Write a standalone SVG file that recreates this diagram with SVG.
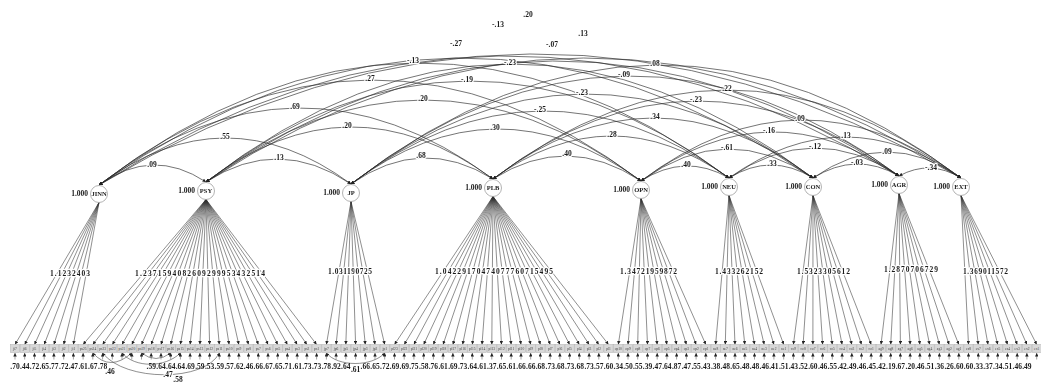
<svg xmlns="http://www.w3.org/2000/svg" xmlns:xlink="http://www.w3.org/1999/xlink" width="1041" height="383" viewBox="0 0 1041 383">
<style>
text{font-family:"Liberation Serif","Times New Roman",serif;font-weight:bold;fill:#1a1a1a}
.lat{fill:#fff;stroke:#a0a0a0;stroke-width:0.8}
.ln{font-size:6.5px;text-anchor:middle}
.one{font-size:7.5px;text-anchor:end}
.cov path{fill:none;stroke:#2a2a2a;stroke-width:0.65;marker-start:url(#ah);marker-end:url(#ah)}
.ld line{stroke:#333;stroke-width:0.55;marker-end:url(#ah2)}
.lab{font-size:7.5px;text-anchor:middle;paint-order:stroke;stroke:#fff;stroke-width:2.5px;stroke-linejoin:round}
.flt{font-size:7.5px;text-anchor:middle}
.ll{font-size:7.5px;text-anchor:middle;paint-order:stroke;stroke:#fff;stroke-width:2.5px;stroke-linejoin:round}
.box{fill:#d8d8d8;stroke:#b0b0b0;stroke-width:0.5}
.bt{font-size:3.6px;text-anchor:middle;fill:#444;font-weight:normal}
.res{font-size:7.5px;text-anchor:middle}
.err{stroke:#444;stroke-width:0.5;marker-end:url(#ah2)}
.ec path{fill:none;stroke:#333;stroke-width:0.55;marker-start:url(#ah3);marker-end:url(#ah3)}
</style>
<defs>
<marker id="ah" viewBox="0 0 6 6" refX="6" refY="3" markerWidth="3.5" markerHeight="3.5" markerUnits="userSpaceOnUse" orient="auto-start-reverse"><path d="M0,0L6,3L0,6z" fill="#222"/></marker>
<marker id="ah2" viewBox="0 0 6 6" refX="6" refY="3" markerWidth="3.5" markerHeight="3.5" markerUnits="userSpaceOnUse" orient="auto"><path d="M0,0L6,3L0,6z" fill="#222"/></marker>
<marker id="ah3" viewBox="0 0 6 6" refX="6" refY="3" markerWidth="3" markerHeight="3" markerUnits="userSpaceOnUse" orient="auto-start-reverse"><path d="M0,0L6,3L0,6z" fill="#222"/></marker>
<g id="ind"><rect class="box" x="-4.6" y="344.5" width="9.2" height="8"/><line class="err" x1="0" y1="359.5" x2="0" y2="353"/></g>
</defs>
<rect width="1041" height="383" fill="#fff"/>
<g opacity="0.999">
<g id="connectors">
<g class="cov">
<path d="M99 185Q152.5 146.5 206 182"/>
<path d="M206 182Q278.5 135 351 184"/>
<path d="M351 184Q422 134.5 493 179"/>
<path d="M493 179Q567 132 641 181"/>
<path d="M641 181Q685 152.5 729 178"/>
<path d="M729 178Q771 152 813 178"/>
<path d="M813 178Q856 151 899 176"/>
<path d="M899 176Q930 159 961 178"/>
<path d="M99 185Q225 91.5 351 184"/>
<path d="M206 182Q349.5 73.5 493 179"/>
<path d="M351 184Q496 75.5 641 181"/>
<path d="M493 179Q611 93.5 729 178"/>
<path d="M641 181Q727 118.5 813 178"/>
<path d="M729 178Q814 119 899 176"/>
<path d="M813 178Q887 126 961 178"/>
<path d="M99 185Q296 34 493 179"/>
<path d="M206 182Q423.5 18.5 641 181"/>
<path d="M351 184Q540 41 729 178"/>
<path d="M493 179Q653 57.5 813 178"/>
<path d="M641 181Q770 85.5 899 176"/>
<path d="M729 178Q845 96 961 178"/>
<path d="M99 185Q370 -23 641 181"/>
<path d="M206 182Q467.5 -18 729 178"/>
<path d="M351 184Q582 7 813 178"/>
<path d="M493 179Q696 24.5 899 176"/>
<path d="M641 181Q801 60.5 961 178"/>
<path d="M99 185Q414 -55.5 729 178"/>
<path d="M206 182Q509.5 -52 813 178"/>
<path d="M351 184Q625 -28 899 176"/>
<path d="M493 179Q727 1.5 961 178"/>
<path d="M99 185Q456 -65.5 813 178"/>
<path d="M206 182Q552.5 -57 899 176"/>
<path d="M351 184Q656 -51 961 178"/>
<path d="M99 185Q499 -68.5 899 176"/>
<path d="M206 182Q583.5 -64 961 178"/>
<path d="M99 185Q530 -73.5 961 178"/>
</g>
<g class="ld">
<line x1="99" y1="202.5" x2="15" y2="344.5"/><line x1="99" y1="202.5" x2="24.7" y2="344.5"/><line x1="99" y1="202.5" x2="34.5" y2="344.5"/><line x1="99" y1="202.5" x2="44.2" y2="344.5"/><line x1="99" y1="202.5" x2="53.9" y2="344.5"/><line x1="99" y1="202.5" x2="63.7" y2="344.5"/><line x1="99" y1="202.5" x2="73.4" y2="344.5"/>
<line x1="206" y1="199.5" x2="83.1" y2="344.5"/><line x1="206" y1="199.5" x2="92.8" y2="344.5"/><line x1="206" y1="199.5" x2="102.6" y2="344.5"/><line x1="206" y1="199.5" x2="112.3" y2="344.5"/><line x1="206" y1="199.5" x2="122" y2="344.5"/><line x1="206" y1="199.5" x2="131.8" y2="344.5"/><line x1="206" y1="199.5" x2="141.5" y2="344.5"/><line x1="206" y1="199.5" x2="151.2" y2="344.5"/><line x1="206" y1="199.5" x2="161" y2="344.5"/><line x1="206" y1="199.5" x2="170.7" y2="344.5"/><line x1="206" y1="199.5" x2="180.4" y2="344.5"/><line x1="206" y1="199.5" x2="190.1" y2="344.5"/><line x1="206" y1="199.5" x2="199.9" y2="344.5"/><line x1="206" y1="199.5" x2="209.6" y2="344.5"/><line x1="206" y1="199.5" x2="219.3" y2="344.5"/><line x1="206" y1="199.5" x2="229.1" y2="344.5"/><line x1="206" y1="199.5" x2="238.8" y2="344.5"/><line x1="206" y1="199.5" x2="248.5" y2="344.5"/><line x1="206" y1="199.5" x2="258.3" y2="344.5"/><line x1="206" y1="199.5" x2="268" y2="344.5"/><line x1="206" y1="199.5" x2="277.7" y2="344.5"/><line x1="206" y1="199.5" x2="287.4" y2="344.5"/><line x1="206" y1="199.5" x2="297.2" y2="344.5"/><line x1="206" y1="199.5" x2="306.9" y2="344.5"/><line x1="206" y1="199.5" x2="316.6" y2="344.5"/>
<line x1="351" y1="201.5" x2="326.4" y2="344.5"/><line x1="351" y1="201.5" x2="336.1" y2="344.5"/><line x1="351" y1="201.5" x2="345.8" y2="344.5"/><line x1="351" y1="201.5" x2="355.6" y2="344.5"/><line x1="351" y1="201.5" x2="365.3" y2="344.5"/><line x1="351" y1="201.5" x2="375" y2="344.5"/><line x1="351" y1="201.5" x2="384.7" y2="344.5"/>
<line x1="493" y1="196.5" x2="394.5" y2="344.5"/><line x1="493" y1="196.5" x2="404.2" y2="344.5"/><line x1="493" y1="196.5" x2="413.9" y2="344.5"/><line x1="493" y1="196.5" x2="423.7" y2="344.5"/><line x1="493" y1="196.5" x2="433.4" y2="344.5"/><line x1="493" y1="196.5" x2="443.1" y2="344.5"/><line x1="493" y1="196.5" x2="452.9" y2="344.5"/><line x1="493" y1="196.5" x2="462.6" y2="344.5"/><line x1="493" y1="196.5" x2="472.3" y2="344.5"/><line x1="493" y1="196.5" x2="482" y2="344.5"/><line x1="493" y1="196.5" x2="491.8" y2="344.5"/><line x1="493" y1="196.5" x2="501.5" y2="344.5"/><line x1="493" y1="196.5" x2="511.2" y2="344.5"/><line x1="493" y1="196.5" x2="521" y2="344.5"/><line x1="493" y1="196.5" x2="530.7" y2="344.5"/><line x1="493" y1="196.5" x2="540.4" y2="344.5"/><line x1="493" y1="196.5" x2="550.2" y2="344.5"/><line x1="493" y1="196.5" x2="559.9" y2="344.5"/><line x1="493" y1="196.5" x2="569.6" y2="344.5"/><line x1="493" y1="196.5" x2="579.3" y2="344.5"/><line x1="493" y1="196.5" x2="589.1" y2="344.5"/><line x1="493" y1="196.5" x2="598.8" y2="344.5"/><line x1="493" y1="196.5" x2="608.5" y2="344.5"/>
<line x1="641" y1="198.5" x2="618.3" y2="344.5"/><line x1="641" y1="198.5" x2="628" y2="344.5"/><line x1="641" y1="198.5" x2="637.7" y2="344.5"/><line x1="641" y1="198.5" x2="647.5" y2="344.5"/><line x1="641" y1="198.5" x2="657.2" y2="344.5"/><line x1="641" y1="198.5" x2="666.9" y2="344.5"/><line x1="641" y1="198.5" x2="676.6" y2="344.5"/><line x1="641" y1="198.5" x2="686.4" y2="344.5"/><line x1="641" y1="198.5" x2="696.1" y2="344.5"/><line x1="641" y1="198.5" x2="705.8" y2="344.5"/>
<line x1="729" y1="195.5" x2="715.6" y2="344.5"/><line x1="729" y1="195.5" x2="725.3" y2="344.5"/><line x1="729" y1="195.5" x2="735" y2="344.5"/><line x1="729" y1="195.5" x2="744.8" y2="344.5"/><line x1="729" y1="195.5" x2="754.5" y2="344.5"/><line x1="729" y1="195.5" x2="764.2" y2="344.5"/><line x1="729" y1="195.5" x2="773.9" y2="344.5"/><line x1="729" y1="195.5" x2="783.7" y2="344.5"/>
<line x1="813" y1="195.5" x2="793.4" y2="344.5"/><line x1="813" y1="195.5" x2="803.1" y2="344.5"/><line x1="813" y1="195.5" x2="812.9" y2="344.5"/><line x1="813" y1="195.5" x2="822.6" y2="344.5"/><line x1="813" y1="195.5" x2="832.3" y2="344.5"/><line x1="813" y1="195.5" x2="842.1" y2="344.5"/><line x1="813" y1="195.5" x2="851.8" y2="344.5"/><line x1="813" y1="195.5" x2="861.5" y2="344.5"/><line x1="813" y1="195.5" x2="871.2" y2="344.5"/>
<line x1="899" y1="193.5" x2="881" y2="344.5"/><line x1="899" y1="193.5" x2="890.7" y2="344.5"/><line x1="899" y1="193.5" x2="900.4" y2="344.5"/><line x1="899" y1="193.5" x2="910.2" y2="344.5"/><line x1="899" y1="193.5" x2="919.9" y2="344.5"/><line x1="899" y1="193.5" x2="929.6" y2="344.5"/><line x1="899" y1="193.5" x2="939.4" y2="344.5"/><line x1="899" y1="193.5" x2="949.1" y2="344.5"/><line x1="899" y1="193.5" x2="958.8" y2="344.5"/>
<line x1="961" y1="195.5" x2="968.5" y2="344.5"/><line x1="961" y1="195.5" x2="978.3" y2="344.5"/><line x1="961" y1="195.5" x2="988" y2="344.5"/><line x1="961" y1="195.5" x2="997.7" y2="344.5"/><line x1="961" y1="195.5" x2="1007.5" y2="344.5"/><line x1="961" y1="195.5" x2="1017.2" y2="344.5"/><line x1="961" y1="195.5" x2="1026.9" y2="344.5"/><line x1="961" y1="195.5" x2="1036.7" y2="344.5"/>
</g>
<g class="ec">
<path d="M92.8 353Q110 372 131.8 353"/>
<path d="M102.6 353C125 382 205 382 219.3 353"/>
<path d="M122 353C135 368 165 368 180.4 353"/>
<path d="M141.5 353Q156 364 170.7 353"/>
<path d="M326.4 353C338 367 372 367 384.7 353"/>
</g>
</g>

<g id="cov-labels">
<text class="lab" x="152" y="166.5">.09</text>
<text class="lab" x="279" y="159.5">.13</text>
<text class="lab" x="421" y="158">.68</text>
<text class="lab" x="567" y="155.5">.40</text>
<text class="lab" x="686" y="166.5">.40</text>
<text class="lab" x="772" y="165.5">.33</text>
<text class="lab" x="857" y="164.5">-.03</text>
<text class="lab" x="931" y="169.5">-.34</text>
<text class="lab" x="225" y="139">.55</text>
<text class="lab" x="347" y="128">.20</text>
<text class="lab" x="495" y="130">.30</text>
<text class="lab" x="612" y="136.5">.28</text>
<text class="lab" x="727" y="149.5">-.61</text>
<text class="lab" x="815" y="148.5">-.12</text>
<text class="lab" x="887" y="153.5">.09</text>
<text class="lab" x="295" y="109">.69</text>
<text class="lab" x="423" y="100.5">.20</text>
<text class="lab" x="540" y="111.5">-.25</text>
<text class="lab" x="655" y="119">.34</text>
<text class="lab" x="769" y="132.5">-.16</text>
<text class="lab" x="846" y="137.5">.13</text>
<text class="lab" x="370" y="80.5">.27</text>
<text class="lab" x="467" y="81.5">-.19</text>
<text class="lab" x="582" y="94.5">-.23</text>
<text class="lab" x="696" y="101.5">-.23</text>
<text class="lab" x="800" y="120.5">.09</text>
<text class="lab" x="413" y="63">-.13</text>
<text class="lab" x="510" y="64.5">-.23</text>
<text class="lab" x="624" y="76.5">-.09</text>
<text class="lab" x="727" y="90.5">.22</text>
<text class="lab" x="655" y="65.5">.08</text>
<text class="flt" x="456" y="45.5">-.27</text>
<text class="flt" x="552" y="46.5">-.07</text>
<text class="flt" x="498" y="27">-.13</text>
<text class="flt" x="583" y="35.5">.13</text>
<text class="flt" x="528" y="16.5">.20</text>
</g>

<g id="loading-labels">
<text class="ll" x="70" y="275.5" textLength="40" lengthAdjust="spacing">1.1232403</text>
<text class="ll" x="200" y="275.5" textLength="130" lengthAdjust="spacing">1.2371594082609299953432514</text>
<text class="ll" x="350" y="273.5" textLength="44" lengthAdjust="spacing">1.031190725</text>
<text class="ll" x="494" y="273.5" textLength="118" lengthAdjust="spacing">1.04229170474077760715495</text>
<text class="ll" x="648.5" y="273.5" textLength="57" lengthAdjust="spacing">1.34721959872</text>
<text class="ll" x="739" y="273.5" textLength="48" lengthAdjust="spacing">1.433262152</text>
<text class="ll" x="823.5" y="273.5" textLength="53" lengthAdjust="spacing">1.5323305612</text>
<text class="ll" x="911" y="271.5" textLength="54" lengthAdjust="spacing">1.2870706729</text>
<text class="ll" x="985.5" y="273.5" textLength="45" lengthAdjust="spacing">1.369011572</text>
</g>

<g id="JINN"><circle class="lat" cx="99" cy="194" r="8.5"/><text class="ln" x="99" y="196.3">JINN</text><text class="one" x="88" y="196">1.000</text></g>
<g id="PSY"><circle class="lat" cx="206" cy="191" r="8.5"/><text class="ln" x="206" y="193.3">PSY</text><text class="one" x="195" y="193">1.000</text></g>
<g id="JP"><circle class="lat" cx="351" cy="193" r="8.5"/><text class="ln" x="351" y="195.3">JP</text><text class="one" x="340" y="195">1.000</text></g>
<g id="PLB"><circle class="lat" cx="493" cy="188" r="8.5"/><text class="ln" x="493" y="190.3">PLB</text><text class="one" x="482" y="190">1.000</text></g>
<g id="OPN"><circle class="lat" cx="641" cy="190" r="8.5"/><text class="ln" x="641" y="192.3">OPN</text><text class="one" x="630" y="192">1.000</text></g>
<g id="NEU"><circle class="lat" cx="729" cy="187" r="8.5"/><text class="ln" x="729" y="189.3">NEU</text><text class="one" x="718" y="189">1.000</text></g>
<g id="CON"><circle class="lat" cx="813" cy="187" r="8.5"/><text class="ln" x="813" y="189.3">CON</text><text class="one" x="802" y="189">1.000</text></g>
<g id="AGR"><circle class="lat" cx="899" cy="185" r="8.5"/><text class="ln" x="899" y="187.3">AGR</text><text class="one" x="888" y="187">1.000</text></g>
<g id="EXT"><circle class="lat" cx="961" cy="187" r="8.5"/><text class="ln" x="961" y="189.3">EXT</text><text class="one" x="950" y="189">1.000</text></g>

<g id="indicators">
<g id="ji7" transform="translate(15)"><use href="#ind"/><text class="bt" y="350">ji7</text><text class="res" y="368.5">.70</text></g>
<g id="ji6" transform="translate(24.7)"><use href="#ind"/><text class="bt" y="350">ji6</text><text class="res" y="368.5">.44</text></g>
<g id="ji5" transform="translate(34.5)"><use href="#ind"/><text class="bt" y="350">ji5</text><text class="res" y="368.5">.72</text></g>
<g id="ji4" transform="translate(44.2)"><use href="#ind"/><text class="bt" y="350">ji4</text><text class="res" y="368.5">.65</text></g>
<g id="ji3" transform="translate(53.9)"><use href="#ind"/><text class="bt" y="350">ji3</text><text class="res" y="368.5">.77</text></g>
<g id="ji2" transform="translate(63.7)"><use href="#ind"/><text class="bt" y="350">ji2</text><text class="res" y="368.5">.72</text></g>
<g id="ji1" transform="translate(73.4)"><use href="#ind"/><text class="bt" y="350">ji1</text><text class="res" y="368.5">.47</text></g>
<g id="ps25" transform="translate(83.1)"><use href="#ind"/><text class="bt" y="350">ps25</text><text class="res" y="368.5">.61</text></g>
<g id="ps24" transform="translate(92.8)"><use href="#ind"/><text class="bt" y="350">ps24</text><text class="res" y="368.5">.67</text></g>
<g id="ps23" transform="translate(102.6)"><use href="#ind"/><text class="bt" y="350">ps23</text><text class="res" y="368.5">.78</text></g>
<g id="ps22" transform="translate(112.3)"><use href="#ind"/><text class="bt" y="350">ps22</text></g>
<g id="ps21" transform="translate(122)"><use href="#ind"/><text class="bt" y="350">ps21</text></g>
<g id="ps20" transform="translate(131.8)"><use href="#ind"/><text class="bt" y="350">ps20</text></g>
<g id="ps19" transform="translate(141.5)"><use href="#ind"/><text class="bt" y="350">ps19</text></g>
<g id="ps18" transform="translate(151.2)"><use href="#ind"/><text class="bt" y="350">ps18</text><text class="res" y="368.5">.59</text></g>
<g id="ps17" transform="translate(161)"><use href="#ind"/><text class="bt" y="350">ps17</text><text class="res" y="368.5">.64</text></g>
<g id="ps16" transform="translate(170.7)"><use href="#ind"/><text class="bt" y="350">ps16</text><text class="res" y="368.5">.64</text></g>
<g id="ps15" transform="translate(180.4)"><use href="#ind"/><text class="bt" y="350">ps15</text><text class="res" y="368.5">.64</text></g>
<g id="ps14" transform="translate(190.1)"><use href="#ind"/><text class="bt" y="350">ps14</text><text class="res" y="368.5">.69</text></g>
<g id="ps13" transform="translate(199.9)"><use href="#ind"/><text class="bt" y="350">ps13</text><text class="res" y="368.5">.59</text></g>
<g id="ps12" transform="translate(209.6)"><use href="#ind"/><text class="bt" y="350">ps12</text><text class="res" y="368.5">.53</text></g>
<g id="ps11" transform="translate(219.3)"><use href="#ind"/><text class="bt" y="350">ps11</text><text class="res" y="368.5">.59</text></g>
<g id="ps10" transform="translate(229.1)"><use href="#ind"/><text class="bt" y="350">ps10</text><text class="res" y="368.5">.57</text></g>
<g id="ps9" transform="translate(238.8)"><use href="#ind"/><text class="bt" y="350">ps9</text><text class="res" y="368.5">.62</text></g>
<g id="ps8" transform="translate(248.5)"><use href="#ind"/><text class="bt" y="350">ps8</text><text class="res" y="368.5">.46</text></g>
<g id="ps7" transform="translate(258.3)"><use href="#ind"/><text class="bt" y="350">ps7</text><text class="res" y="368.5">.66</text></g>
<g id="ps6" transform="translate(268)"><use href="#ind"/><text class="bt" y="350">ps6</text><text class="res" y="368.5">.67</text></g>
<g id="ps5" transform="translate(277.7)"><use href="#ind"/><text class="bt" y="350">ps5</text><text class="res" y="368.5">.65</text></g>
<g id="ps4" transform="translate(287.4)"><use href="#ind"/><text class="bt" y="350">ps4</text><text class="res" y="368.5">.71</text></g>
<g id="ps3" transform="translate(297.2)"><use href="#ind"/><text class="bt" y="350">ps3</text><text class="res" y="368.5">.61</text></g>
<g id="ps2" transform="translate(306.9)"><use href="#ind"/><text class="bt" y="350">ps2</text><text class="res" y="368.5">.73</text></g>
<g id="ps1" transform="translate(316.6)"><use href="#ind"/><text class="bt" y="350">ps1</text><text class="res" y="368.5">.73</text></g>
<g id="jp7" transform="translate(326.4)"><use href="#ind"/><text class="bt" y="350">jp7</text><text class="res" y="368.5">.78</text></g>
<g id="jp6" transform="translate(336.1)"><use href="#ind"/><text class="bt" y="350">jp6</text><text class="res" y="368.5">.92</text></g>
<g id="jp5" transform="translate(345.8)"><use href="#ind"/><text class="bt" y="350">jp5</text><text class="res" y="368.5">.64</text></g>
<g id="jp4" transform="translate(355.6)"><use href="#ind"/><text class="bt" y="350">jp4</text><text class="res" y="372">.61</text></g>
<g id="jp3" transform="translate(365.3)"><use href="#ind"/><text class="bt" y="350">jp3</text><text class="res" y="368.5">.66</text></g>
<g id="jp2" transform="translate(375)"><use href="#ind"/><text class="bt" y="350">jp2</text><text class="res" y="368.5">.65</text></g>
<g id="jp1" transform="translate(384.7)"><use href="#ind"/><text class="bt" y="350">jp1</text><text class="res" y="368.5">.72</text></g>
<g id="pl23" transform="translate(394.5)"><use href="#ind"/><text class="bt" y="350">pl23</text><text class="res" y="368.5">.69</text></g>
<g id="pl22" transform="translate(404.2)"><use href="#ind"/><text class="bt" y="350">pl22</text><text class="res" y="368.5">.69</text></g>
<g id="pl21" transform="translate(413.9)"><use href="#ind"/><text class="bt" y="350">pl21</text><text class="res" y="368.5">.75</text></g>
<g id="pl20" transform="translate(423.7)"><use href="#ind"/><text class="bt" y="350">pl20</text><text class="res" y="368.5">.58</text></g>
<g id="pl19" transform="translate(433.4)"><use href="#ind"/><text class="bt" y="350">pl19</text><text class="res" y="368.5">.76</text></g>
<g id="pl18" transform="translate(443.1)"><use href="#ind"/><text class="bt" y="350">pl18</text><text class="res" y="368.5">.61</text></g>
<g id="pl17" transform="translate(452.9)"><use href="#ind"/><text class="bt" y="350">pl17</text><text class="res" y="368.5">.69</text></g>
<g id="pl16" transform="translate(462.6)"><use href="#ind"/><text class="bt" y="350">pl16</text><text class="res" y="368.5">.73</text></g>
<g id="pl15" transform="translate(472.3)"><use href="#ind"/><text class="bt" y="350">pl15</text><text class="res" y="368.5">.64</text></g>
<g id="pl14" transform="translate(482)"><use href="#ind"/><text class="bt" y="350">pl14</text><text class="res" y="368.5">.61</text></g>
<g id="pl13" transform="translate(491.8)"><use href="#ind"/><text class="bt" y="350">pl13</text><text class="res" y="368.5">.37</text></g>
<g id="pl12" transform="translate(501.5)"><use href="#ind"/><text class="bt" y="350">pl12</text><text class="res" y="368.5">.65</text></g>
<g id="pl11" transform="translate(511.2)"><use href="#ind"/><text class="bt" y="350">pl11</text><text class="res" y="368.5">.61</text></g>
<g id="pl10" transform="translate(521)"><use href="#ind"/><text class="bt" y="350">pl10</text><text class="res" y="368.5">.66</text></g>
<g id="pl9" transform="translate(530.7)"><use href="#ind"/><text class="bt" y="350">pl9</text><text class="res" y="368.5">.66</text></g>
<g id="pl8" transform="translate(540.4)"><use href="#ind"/><text class="bt" y="350">pl8</text><text class="res" y="368.5">.68</text></g>
<g id="pl7" transform="translate(550.2)"><use href="#ind"/><text class="bt" y="350">pl7</text><text class="res" y="368.5">.73</text></g>
<g id="pl6" transform="translate(559.9)"><use href="#ind"/><text class="bt" y="350">pl6</text><text class="res" y="368.5">.68</text></g>
<g id="pl5" transform="translate(569.6)"><use href="#ind"/><text class="bt" y="350">pl5</text><text class="res" y="368.5">.73</text></g>
<g id="pl4" transform="translate(579.3)"><use href="#ind"/><text class="bt" y="350">pl4</text><text class="res" y="368.5">.68</text></g>
<g id="pl3" transform="translate(589.1)"><use href="#ind"/><text class="bt" y="350">pl3</text><text class="res" y="368.5">.73</text></g>
<g id="pl2" transform="translate(598.8)"><use href="#ind"/><text class="bt" y="350">pl2</text><text class="res" y="368.5">.57</text></g>
<g id="pl1" transform="translate(608.5)"><use href="#ind"/><text class="bt" y="350">pl1</text><text class="res" y="368.5">.60</text></g>
<g id="op10" transform="translate(618.3)"><use href="#ind"/><text class="bt" y="350">op10</text><text class="res" y="368.5">.34</text></g>
<g id="op9" transform="translate(628)"><use href="#ind"/><text class="bt" y="350">op9</text><text class="res" y="368.5">.50</text></g>
<g id="op8" transform="translate(637.7)"><use href="#ind"/><text class="bt" y="350">op8</text><text class="res" y="368.5">.55</text></g>
<g id="op7" transform="translate(647.5)"><use href="#ind"/><text class="bt" y="350">op7</text><text class="res" y="368.5">.39</text></g>
<g id="op6" transform="translate(657.2)"><use href="#ind"/><text class="bt" y="350">op6</text><text class="res" y="368.5">.47</text></g>
<g id="op5" transform="translate(666.9)"><use href="#ind"/><text class="bt" y="350">op5</text><text class="res" y="368.5">.64</text></g>
<g id="op4" transform="translate(676.6)"><use href="#ind"/><text class="bt" y="350">op4</text><text class="res" y="368.5">.87</text></g>
<g id="op3" transform="translate(686.4)"><use href="#ind"/><text class="bt" y="350">op3</text><text class="res" y="368.5">.47</text></g>
<g id="op2" transform="translate(696.1)"><use href="#ind"/><text class="bt" y="350">op2</text><text class="res" y="368.5">.55</text></g>
<g id="op1" transform="translate(705.8)"><use href="#ind"/><text class="bt" y="350">op1</text><text class="res" y="368.5">.43</text></g>
<g id="ne8" transform="translate(715.6)"><use href="#ind"/><text class="bt" y="350">ne8</text><text class="res" y="368.5">.38</text></g>
<g id="ne7" transform="translate(725.3)"><use href="#ind"/><text class="bt" y="350">ne7</text><text class="res" y="368.5">.48</text></g>
<g id="ne6" transform="translate(735)"><use href="#ind"/><text class="bt" y="350">ne6</text><text class="res" y="368.5">.65</text></g>
<g id="ne5" transform="translate(744.8)"><use href="#ind"/><text class="bt" y="350">ne5</text><text class="res" y="368.5">.48</text></g>
<g id="ne4" transform="translate(754.5)"><use href="#ind"/><text class="bt" y="350">ne4</text><text class="res" y="368.5">.48</text></g>
<g id="ne3" transform="translate(764.2)"><use href="#ind"/><text class="bt" y="350">ne3</text><text class="res" y="368.5">.46</text></g>
<g id="ne2" transform="translate(773.9)"><use href="#ind"/><text class="bt" y="350">ne2</text><text class="res" y="368.5">.41</text></g>
<g id="ne1" transform="translate(783.7)"><use href="#ind"/><text class="bt" y="350">ne1</text><text class="res" y="368.5">.51</text></g>
<g id="co9" transform="translate(793.4)"><use href="#ind"/><text class="bt" y="350">co9</text><text class="res" y="368.5">.43</text></g>
<g id="co8" transform="translate(803.1)"><use href="#ind"/><text class="bt" y="350">co8</text><text class="res" y="368.5">.52</text></g>
<g id="co7" transform="translate(812.9)"><use href="#ind"/><text class="bt" y="350">co7</text><text class="res" y="368.5">.60</text></g>
<g id="co6" transform="translate(822.6)"><use href="#ind"/><text class="bt" y="350">co6</text><text class="res" y="368.5">.46</text></g>
<g id="co5" transform="translate(832.3)"><use href="#ind"/><text class="bt" y="350">co5</text><text class="res" y="368.5">.55</text></g>
<g id="co4" transform="translate(842.1)"><use href="#ind"/><text class="bt" y="350">co4</text><text class="res" y="368.5">.42</text></g>
<g id="co3" transform="translate(851.8)"><use href="#ind"/><text class="bt" y="350">co3</text><text class="res" y="368.5">.49</text></g>
<g id="co2" transform="translate(861.5)"><use href="#ind"/><text class="bt" y="350">co2</text><text class="res" y="368.5">.46</text></g>
<g id="co1" transform="translate(871.2)"><use href="#ind"/><text class="bt" y="350">co1</text><text class="res" y="368.5">.45</text></g>
<g id="ag9" transform="translate(881)"><use href="#ind"/><text class="bt" y="350">ag9</text><text class="res" y="368.5">.42</text></g>
<g id="ag8" transform="translate(890.7)"><use href="#ind"/><text class="bt" y="350">ag8</text><text class="res" y="368.5">.19</text></g>
<g id="ag7" transform="translate(900.4)"><use href="#ind"/><text class="bt" y="350">ag7</text><text class="res" y="368.5">.67</text></g>
<g id="ag6" transform="translate(910.2)"><use href="#ind"/><text class="bt" y="350">ag6</text><text class="res" y="368.5">.20</text></g>
<g id="ag5" transform="translate(919.9)"><use href="#ind"/><text class="bt" y="350">ag5</text><text class="res" y="368.5">.46</text></g>
<g id="ag4" transform="translate(929.6)"><use href="#ind"/><text class="bt" y="350">ag4</text><text class="res" y="368.5">.51</text></g>
<g id="ag3" transform="translate(939.4)"><use href="#ind"/><text class="bt" y="350">ag3</text><text class="res" y="368.5">.36</text></g>
<g id="ag2" transform="translate(949.1)"><use href="#ind"/><text class="bt" y="350">ag2</text><text class="res" y="368.5">.26</text></g>
<g id="ag1" transform="translate(958.8)"><use href="#ind"/><text class="bt" y="350">ag1</text><text class="res" y="368.5">.60</text></g>
<g id="ex8" transform="translate(968.5)"><use href="#ind"/><text class="bt" y="350">ex8</text><text class="res" y="368.5">.60</text></g>
<g id="ex7" transform="translate(978.3)"><use href="#ind"/><text class="bt" y="350">ex7</text><text class="res" y="368.5">.33</text></g>
<g id="ex6" transform="translate(988)"><use href="#ind"/><text class="bt" y="350">ex6</text><text class="res" y="368.5">.37</text></g>
<g id="ex5" transform="translate(997.7)"><use href="#ind"/><text class="bt" y="350">ex5</text><text class="res" y="368.5">.34</text></g>
<g id="ex4" transform="translate(1007.5)"><use href="#ind"/><text class="bt" y="350">ex4</text><text class="res" y="368.5">.51</text></g>
<g id="ex3" transform="translate(1017.2)"><use href="#ind"/><text class="bt" y="350">ex3</text><text class="res" y="368.5">.46</text></g>
<g id="ex2" transform="translate(1026.9)"><use href="#ind"/><text class="bt" y="350">ex2</text><text class="res" y="368.5">.49</text></g>
<g id="ex1" transform="translate(1036.7)"><use href="#ind"/><text class="bt" y="350">ex1</text></g>
</g>

<g id="error-cov-labels">
<text class="ll" x="110" y="373.5">.46</text>
<text class="ll" x="168" y="376.5">.47</text>
<text class="res" x="178" y="382">.58</text>
</g>
</g>
</svg>
